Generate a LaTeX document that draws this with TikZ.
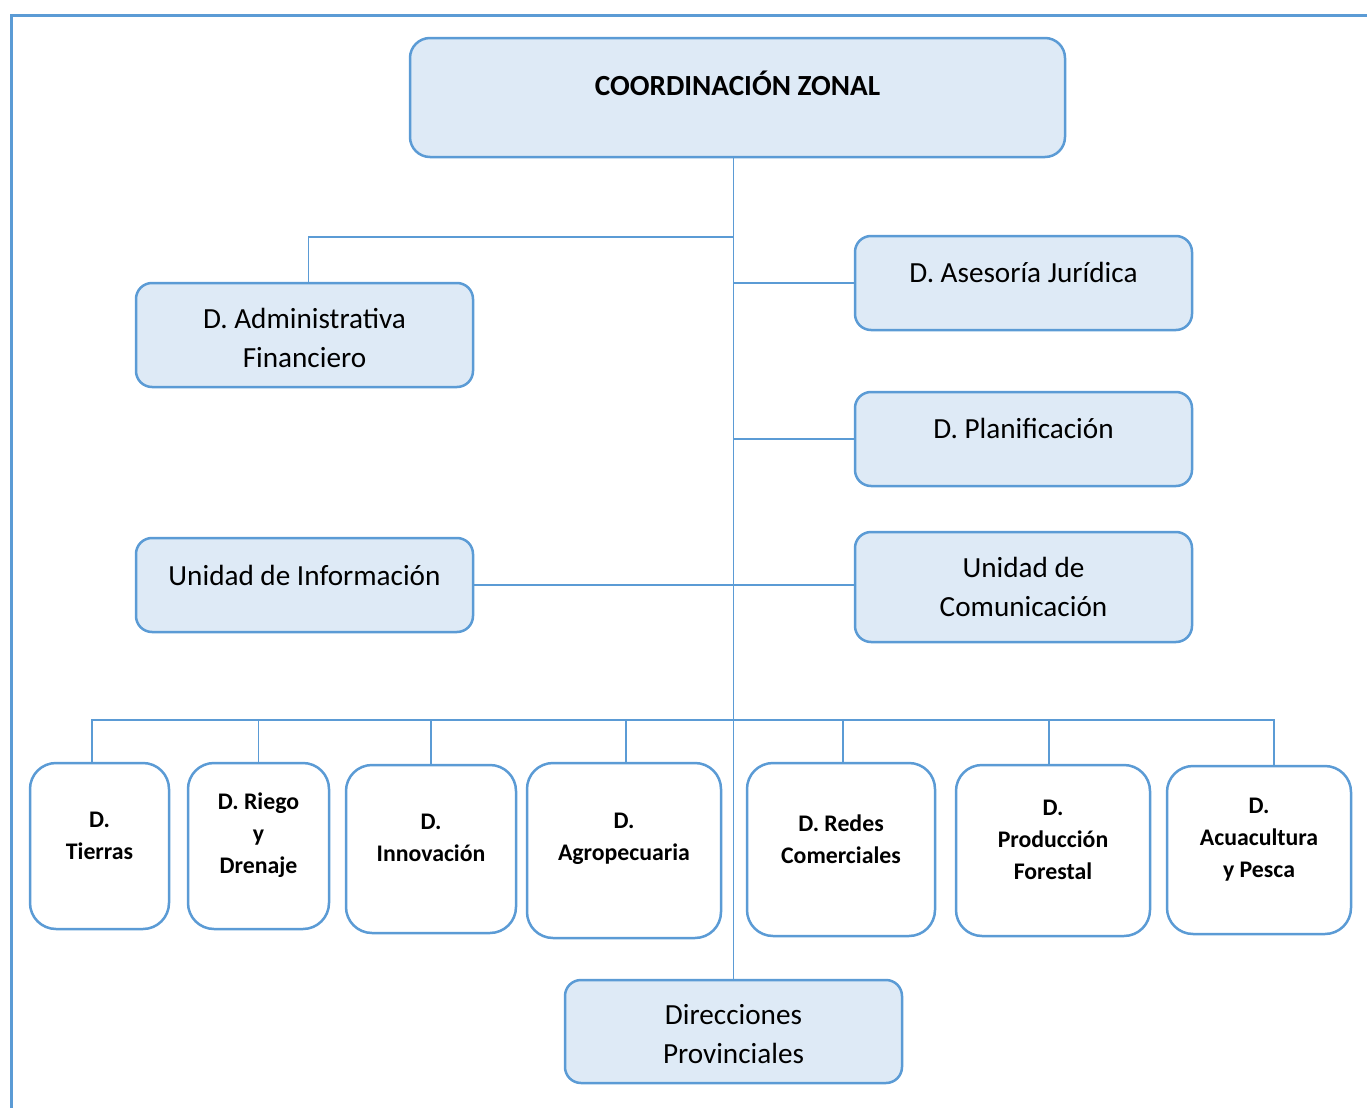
\documentclass[tikz,border=0pt]{standalone}
\usepackage{fontspec}
\setmainfont{Carlito}
\definecolor{accent}{HTML}{5B9BD5}
\definecolor{boxfill}{HTML}{DEEAF6}

\begin{document}
\begin{tikzpicture}[
		x=0.5pt, y=-0.5pt,
		unitbox/.style={draw=accent, line width=1.25pt, fill=boxfill, rounded corners=8pt, inner sep=0pt},
		dirbox/.style={draw=accent, line width=1.25pt, fill=white, rounded corners=13pt, inner sep=0pt},
		link/.style={draw=accent, line width=0.6pt},
		frame/.style={draw=accent, line width=1.5pt},
		txt/.style={align=center, inner sep=0pt, font=\fontsize{14.6}{19.5}\selectfont},
		btxt/.style={align=center, inner sep=0pt, font=\fontsize{11.9}{16}\selectfont\bfseries}
	]
	\useasboundingbox (0,0) rectangle (1367,1108);
	\draw[frame] (11,1108) -- (11,15) -- (1367,15);

	% Boxes
	\node[unitbox, rounded corners=10pt, minimum width=327.5pt, minimum height=59.5pt] (cz) at (737.5,97.5) {};
	\node[unitbox, minimum width=168.5pt, minimum height=47pt] (jur) at (1023.5,283) {};
	\node[unitbox, minimum width=168.5pt, minimum height=47pt] (plan) at (1023.5,439) {};
	\node[unitbox, minimum width=168.5pt, minimum height=55pt] (com) at (1023.5,587) {};
	\node[unitbox, minimum width=168.5pt, minimum height=52pt] (adm) at (304.5,335) {};
	\node[unitbox, minimum width=168.5pt, minimum height=47pt] (inf) at (304.5,585) {};
	\node[unitbox, minimum width=168.5pt, minimum height=51.5pt] (prov) at (733.5,1031.5) {};

	\node[dirbox, minimum width=69.5pt, minimum height=83pt] (tie) at (99.5,846) {};
	\node[dirbox, minimum width=70.5pt, minimum height=83pt] (rie) at (258.5,846) {};
	\node[dirbox, minimum width=85pt, minimum height=84pt] (inn) at (431,849) {};
	\node[dirbox, minimum width=97pt, minimum height=87.5pt] (agr) at (624,850.5) {};
	\node[dirbox, minimum width=94pt, minimum height=86.5pt] (red) at (841,849.5) {};
	\node[dirbox, minimum width=97pt, minimum height=85.5pt] (pro) at (1053,850.5) {};
	\node[dirbox, minimum width=92pt, minimum height=84pt] (acu) at (1259,850) {};

	% Connections
	\coordinate (adm-j) at (733,237);
	\coordinate (bus) at (733,720);
	\draw[link] (cz.south -| prov.north) -- (prov.north);
	\draw[link] ([xshift=2pt]adm.north) |- (adm-j);
	\draw[link] (jur.west) -- (jur.west -| prov.north);
	\draw[link] (plan.west) -- (plan.west -| prov.north);
	\draw[link] (inf.east) -- (inf.east -| com.west);
	\draw[link] ([xshift=-3.75pt]tie.north) |- (bus);
	\draw[link] (rie.north) |- (bus);
	\draw[link] (inn.north) |- (bus);
	\draw[link] ([xshift=1pt]agr.north) |- (bus);
	\draw[link] ([xshift=1pt]red.north) |- (bus);
	\draw[link] ([xshift=-2pt]pro.north) |- (bus);
	\draw[link] ([xshift=7.5pt]acu.north) |- (bus);

	% Labels
	\node[txt, anchor=base, font=\fontsize{14.6}{19.5}\selectfont\bfseries] (cz-t) at (737.5,95) {COORDINACIÓN ZONAL};
	\node[txt] (jur-t) at (1023.5,272) {D. Asesoría Jurídica};
	\node[txt] (plan-t) at (1023.5,428) {D. Planificación};
	\node[txt] (com-t) at (1023.5,586.5) {Unidad de\\Comunicación};
	\node[txt] (adm-t) at (304.5,337.5) {D. Administrativa\\Financiero};
	\node[txt] (inf-t) at (304.5,575) {Unidad de Información};
	\node[txt] (prov-t) at (733.5,1034.5) {Direcciones\\Provinciales};

	\node[btxt] (tie-t) at (99.5,836) {D.\\Tierras};
	\node[btxt] (rie-t) at (258.5,835.5) {D. Riego\\y\\Drenaje};
	\node[btxt] (inn-t) at (431,838) {D.\\Innovación};
	\node[btxt] (agr-t) at (624,839) {D.\\Agropecuaria};
	\node[btxt] (red-t) at (841,839) {D. Redes\\Comerciales};
	\node[btxt] (pro-t) at (1053,839.5) {D.\\Producción\\Forestal};
	\node[btxt] (acu-t) at (1259,839.5) {D.\\Acuacultura\\y Pesca};
\end{tikzpicture}
\end{document}
